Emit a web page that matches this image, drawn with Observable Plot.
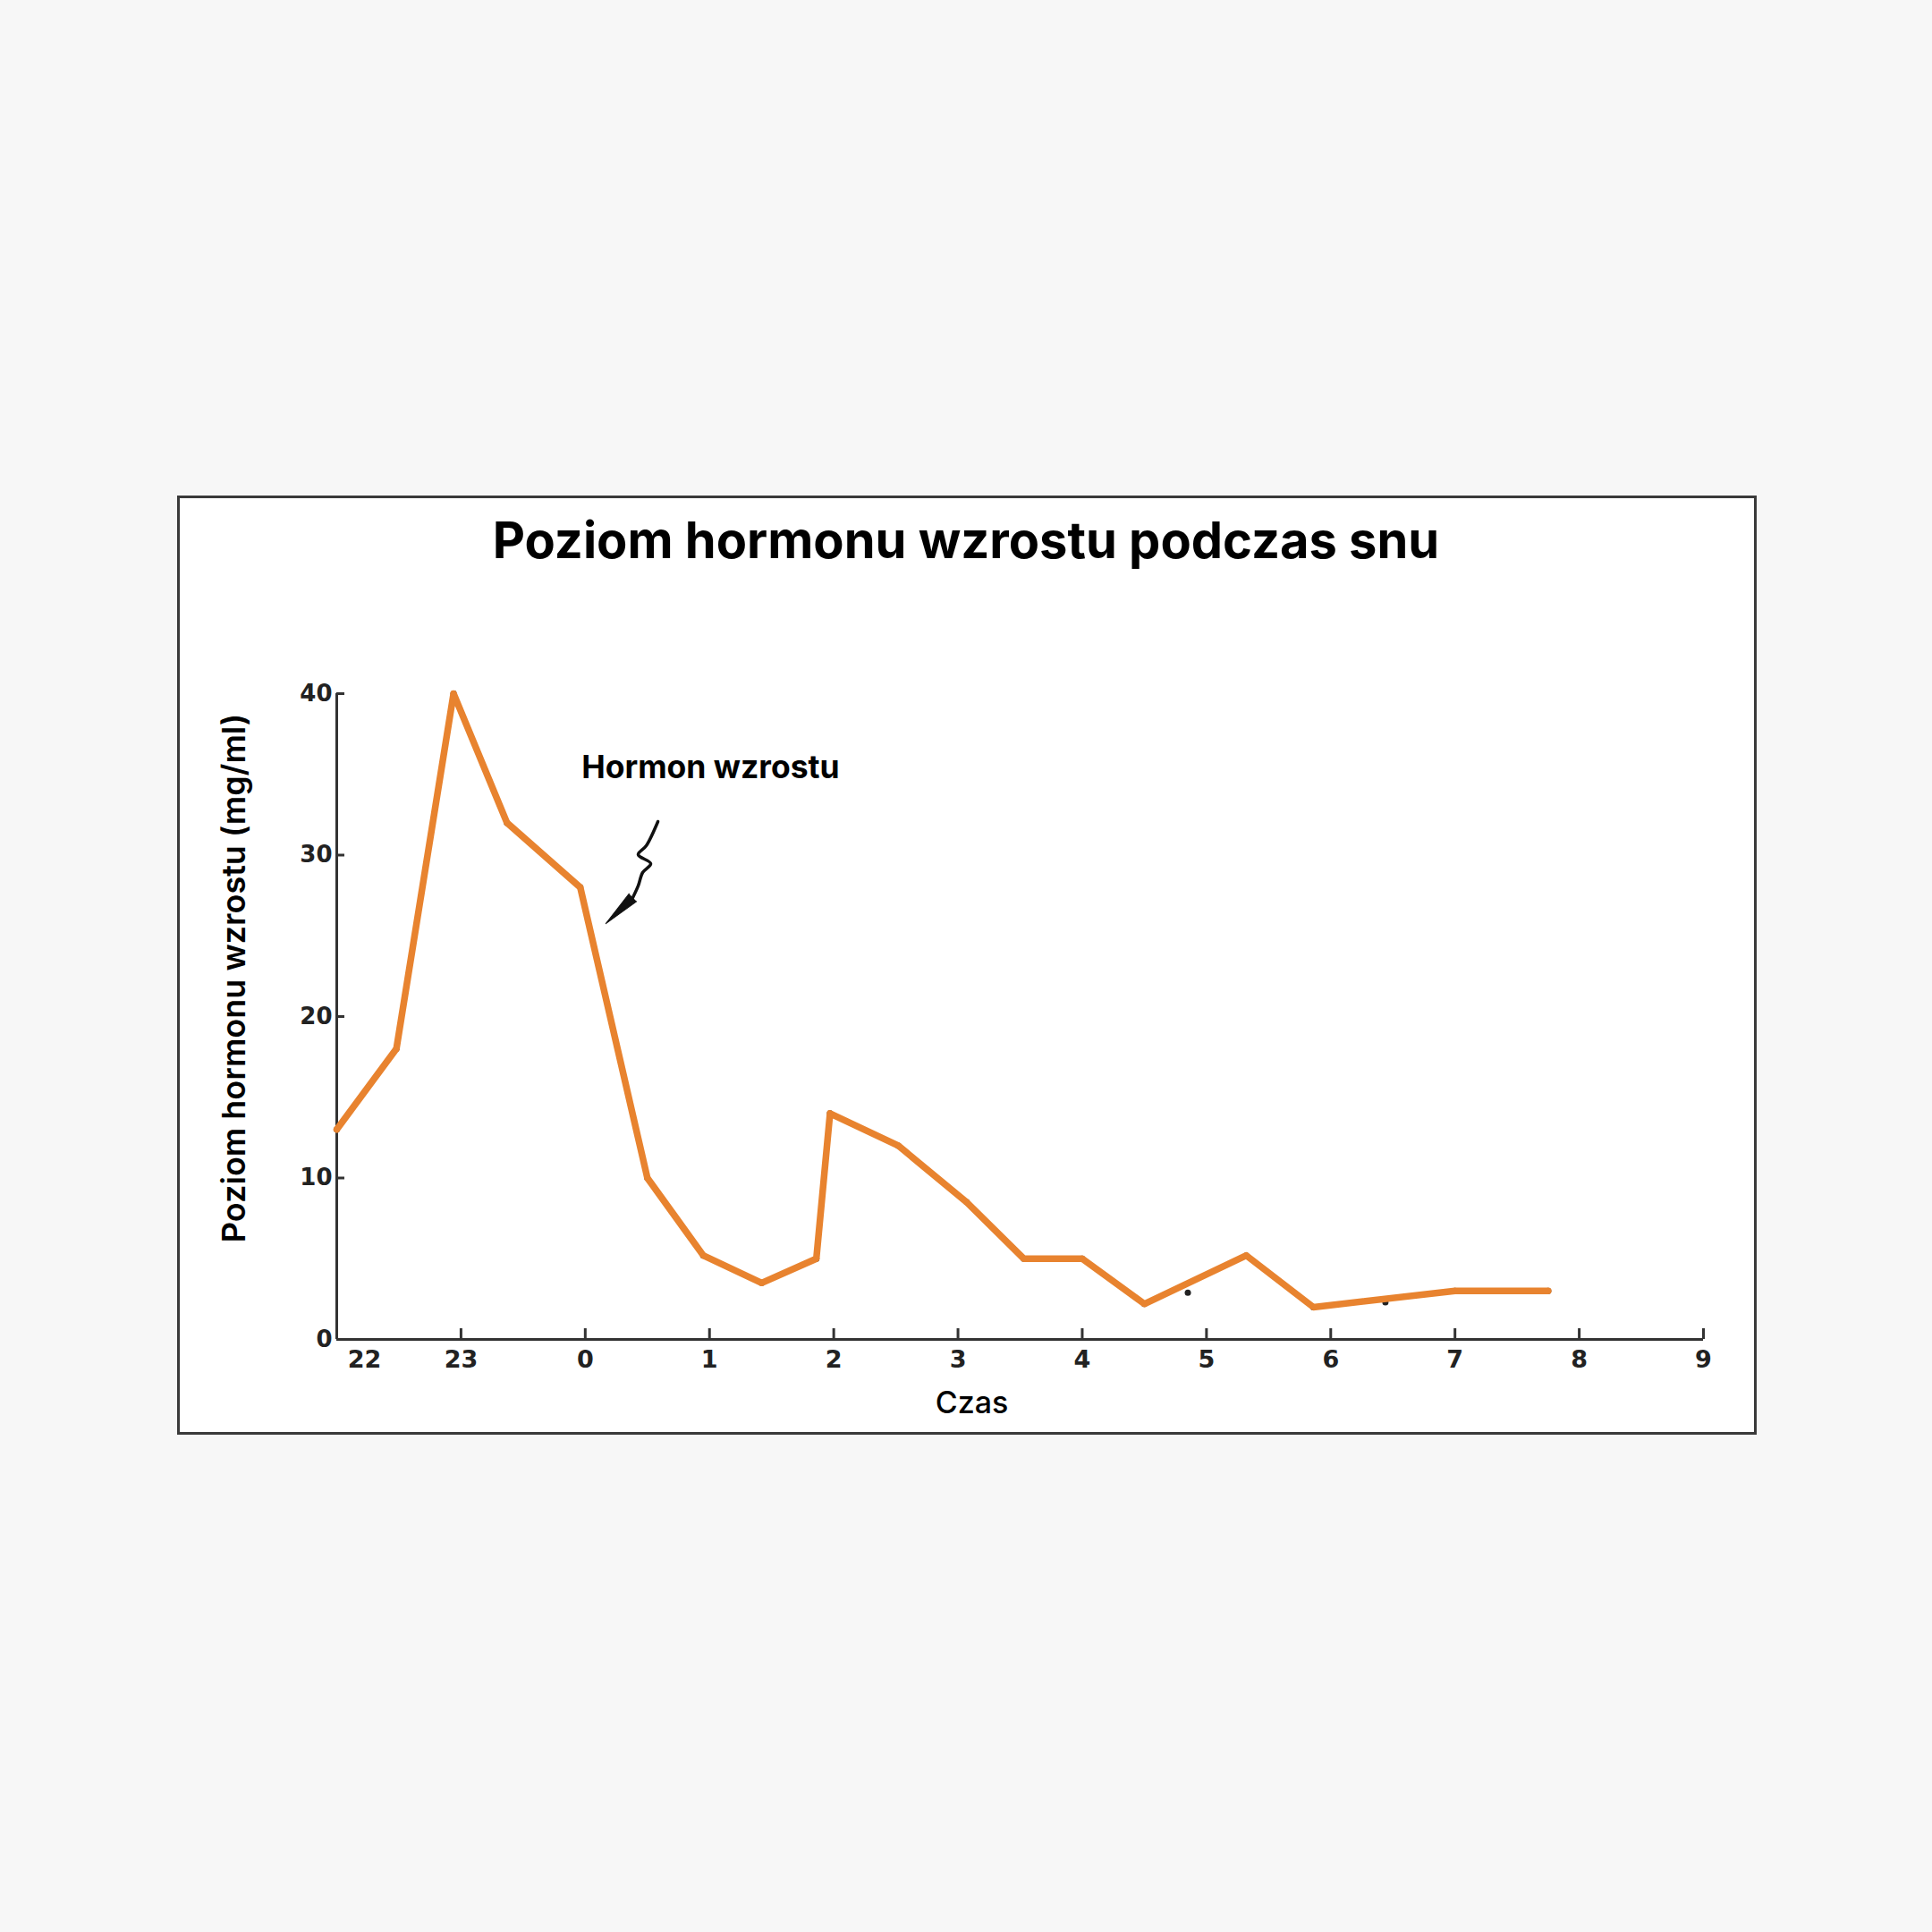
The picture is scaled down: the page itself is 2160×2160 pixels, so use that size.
<!DOCTYPE html>
<html>
<head>
<meta charset="utf-8">
<script src="https://cdn.jsdelivr.net/npm/d3@7"></script>
<script src="https://cdn.jsdelivr.net/npm/@observablehq/plot@0.6"></script>
<style>
  html, body { margin: 0; padding: 0; background: #f7f7f7; }
  #page { position: relative; width: 2160px; height: 2160px; background: #f7f7f7; overflow: hidden; }
  #box { position: absolute; left: 198px; top: 554px; width: 1766px; height: 1050px; box-sizing: border-box; border: 3px solid #3a3a3a; background: #fff; }
  #title { position: absolute; left: 0; width: 2160px; top: 574px; text-align: center; font-family: Inter, sans-serif; font-weight: 700; font-size: 56px; line-height: 60px; color: #000; }
  #chart { position: absolute; left: 0; top: 680px; }
</style>
</head>
<body>
<div id="page">
  <div id="box"></div>
  <div id="title"></div>
  <div id="chart"></div>
</div>
<script>
// ---- data ----
const titleText = "Poziom hormonu wzrostu podczas snu";
const yLabel = "Poziom hormonu wzrostu (mg/ml)";
const xLabel = "Czas";
const annotText = "Hormon wzrostu";

// orange trace (hours after 22:00 expressed as 22..33)
const traceTimes  = [22.0, 22.48, 22.94, 23.37, 23.96, 24.5, 24.95, 25.42, 25.86, 25.97, 26.52, 27.07, 27.53, 28.0, 28.5, 29.32, 29.86, 31.0, 31.75];
const traceLevels = [13, 18, 40, 32, 28, 10, 5.2, 3.5, 5.0, 14, 12, 8.5, 5.0, 5.0, 2.2, 5.2, 2.0, 3.0, 3.0];

// original sample dots
const sampleTimes  = [22.0, 22.48, 22.94, 23.37, 23.96, 24.5, 24.95, 25.42, 25.86, 25.97, 26.52, 27.07, 27.53, 28.0, 28.5, 28.85, 29.32, 29.86, 30.44, 31.0, 31.75];
const sampleLevels = [13, 18, 40, 32, 28, 10, 5.2, 3.5, 5.0, 14, 12, 8.5, 5.0, 5.0, 2.2, 2.9, 5.2, 2.0, 2.3, 3.0, 3.0];

const hourTicks  = [22, 23, 24, 25, 26, 27, 28, 29, 30, 31, 32, 33];
const hourLabels = ["22", "23", "0", "1", "2", "3", "4", "5", "6", "7", "8", "9"];
const yTicks = [0, 10, 20, 30, 40];

// annotation (data coordinates)
const annotX = 23.97, annotY = 35.4;
const squiggleX = [24.585, 24.491, 24.426, 24.527, 24.462, 24.426, 24.383];
const squiggleY = [32.08, 30.58, 30.03, 29.47, 28.92, 28.09, 27.37];

// ---- build ----
document.getElementById("title").textContent = titleText;

const trace = traceTimes.map((t, i) => ({t, v: traceLevels[i]}));
const samples = sampleTimes.map((t, i) => ({t, v: sampleLevels[i]}));
const squiggle = squiggleX.map((x, i) => ({x, y: squiggleY[i]}));
const wedgeBase = [{x: squiggleX[squiggleX.length - 1], y: squiggleY[squiggleY.length - 1]}];

const axisColor = "#333";
const tickFont = "DejaVu Sans";

const chart = Plot.plot({
  width: 2160,
  height: 920,
  marginLeft: 376,
  marginRight: 256,
  marginTop: 95,
  marginBottom: 103,
  x: {domain: [22, 33]},
  y: {domain: [0, 40]},
  style: {background: "transparent", overflow: "visible", fontFamily: tickFont},
  marks: [
    Plot.axisX({ticks: hourTicks, tickSize: -12, tickFormat: () => "", stroke: axisColor, strokeWidth: 3, label: null}),
    Plot.axisY({ticks: yTicks, tickSize: -9, tickFormat: () => "", stroke: axisColor, strokeWidth: 3, label: null}),
    Plot.ruleX([22], {y1: 0, y2: 40, stroke: axisColor, strokeWidth: 3}),
    Plot.ruleY([0], {x1: 22, x2: 33, stroke: axisColor, strokeWidth: 3}),
    Plot.text(yTicks, {y: d => d, frameAnchor: "left", text: d => String(d), textAnchor: "end", dx: -5, fontSize: 26, fontWeight: "bold", fill: "#222"}),
    Plot.text(hourTicks, {x: d => d, frameAnchor: "bottom", text: (d, i) => hourLabels[i], filter: (d, i) => i > 0, dy: 31, fontSize: 27, fontWeight: "bold", fill: "#222"}),
    Plot.text(hourTicks, {x: d => d, frameAnchor: "bottom", text: (d, i) => hourLabels[i], filter: (d, i) => i === 0, dx: 31, dy: 31, fontSize: 27, fontWeight: "bold", fill: "#222"}),
    Plot.text([yLabel], {frameAnchor: "left", textAnchor: "middle", rotate: -90, dx: -114, dy: -43, fontSize: 36, fontWeight: 600, fontFamily: "Inter", fill: "#000"}),
    Plot.text([xLabel], {frameAnchor: "bottom", textAnchor: "middle", dx: -54, dy: 82, fontSize: 34, fontWeight: 500, fontFamily: "Inter", fill: "#000"}),
    Plot.text([annotText], {x: () => annotX, y: () => annotY, textAnchor: "start", fontSize: 35.5, fontWeight: 700, fontFamily: "Inter", fill: "#000"}),
    Plot.line(squiggle, {x: "x", y: "y", stroke: "#111", strokeWidth: 3.5, curve: "catmull-rom"}),
    Plot.vector(wedgeBase, {x: "x", y: "y", shape: "spike", length: 42, r: 6, rotate: 226, anchor: "start", fill: "#111", stroke: "#111", strokeWidth: 1}),
    Plot.dot(samples, {x: "t", y: "v", r: 3.5, fill: "#222"}),
    Plot.line(trace, {x: "t", y: "v", stroke: "#e8832f", strokeWidth: 7.5, strokeLinejoin: "round", strokeLinecap: "round"})
  ]
});
document.getElementById("chart").appendChild(chart);
</script>
</body>
</html>
